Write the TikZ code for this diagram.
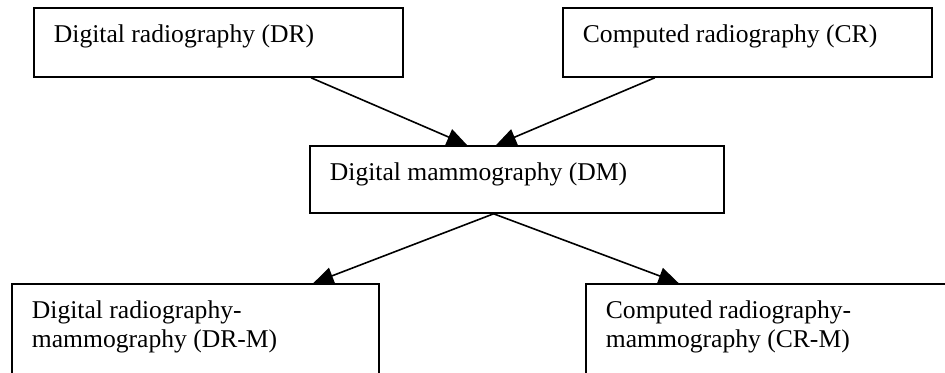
\documentclass[tikz,border=0pt]{standalone}
\usepackage{fontspec}
\setmainfont{Liberation Serif}
\usetikzlibrary{arrows.meta,calc}

\tikzset{
	box/.style={draw, line width=0.9pt, anchor=north west, inner xsep=10pt, inner ysep=0pt, font=\fontsize{12.8}{14.5}\selectfont},
	arr/.style={-{Triangle[length=10pt,width=8.5pt]}, line width=0.8pt},
}
\newcommand{\boxtext}[3]{\parbox[t][#2][t]{#1}{\rule{0pt}{17.5pt}#3}}

\begin{document}
\begin{tikzpicture}[x=0.5pt,y=-0.5pt]
	\clip (0,0) rectangle (945,373);
	\node[box] (dr) at (33,7) {\boxtext{164.5pt}{34.5pt}{Digital radiography (DR)}};
	\node[box] (cr) at (562,7) {\boxtext{164.5pt}{34.5pt}{Computed radiography (CR)}};
	\node[box] (dm) at (309,145) {\boxtext{187pt}{33.5pt}{Digital mammography (DM)}};
	\node[box] (drm) at (11,283) {\boxtext{163.5pt}{55pt}{Digital radiography-\\mammography (DR-M)}};
	\node[box] (crm) at (585,283) {\boxtext{170pt}{55pt}{Computed radiography-\\mammography (CR-M)}};
	\coordinate (split) at ($(dm.south west)!0.444!(dm.south east)$);
	\draw [arr] ($(dr.south west)!0.75!(dr.south east)$) -- ($(dm.north west)!0.38!(dm.north east)$);
	\draw [arr] ($(cr.south west)!0.25!(cr.south east)$) -- ($(dm.north west)!0.45!(dm.north east)$);
	\draw [arr] (split) -- ($(drm.north west)!0.82!(drm.north east)$);
	\draw [arr] (split) -- ($(crm.north west)!0.245!(crm.north east)$);
\end{tikzpicture}
\end{document}
